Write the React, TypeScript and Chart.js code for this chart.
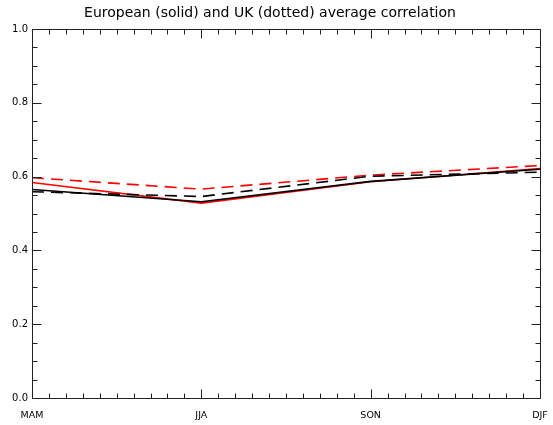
import React, { useEffect, useRef } from "react";
import { Chart, registerables } from "chart.js";
Chart.register(...registerables);

const seasons = ["MAM", "JJA", "SON", "DJF"];
const europeBlack = [0.565, 0.532, 0.587, 0.62];
const europeRed = [0.584, 0.528, 0.586, 0.622];
const ukBlack = [0.559, 0.546, 0.601, 0.612];
const ukRed = [0.597, 0.566, 0.604, 0.63];
const titleText = "European (solid) and UK (dotted) average correlation";

const FONT = "'DejaVu Sans', sans-serif";

const framePlugin = {
  id: "frameTicks",
  afterDraw(chart: any) {
    const { ctx, chartArea, scales } = chart;
    const xs = scales.x;
    const ys = scales.y;
    ctx.save();
    ctx.strokeStyle = "#222";
    ctx.lineWidth = 1;
    ctx.beginPath();
    const l = Math.round(chartArea.left) + 0.5;
    const r = Math.round(chartArea.right) + 0.5;
    const t = Math.round(chartArea.top) + 0.5;
    const b = Math.round(chartArea.bottom) + 0.5;
    ctx.rect(l, t, r - l, b - t);
    for (let i = 0; i <= 30; i++) {
      const px = Math.round(xs.getPixelForValue(i / 10)) + 0.5;
      const len = i % 10 === 0 ? 9 : 5;
      ctx.moveTo(px, b);
      ctx.lineTo(px, b - len);
      ctx.moveTo(px, t);
      ctx.lineTo(px, t + len);
    }
    for (let i = 0; i <= 20; i++) {
      const py = Math.round(ys.getPixelForValue(i * 0.05)) + 0.5;
      const len = i % 4 === 0 ? 9 : 5;
      ctx.moveTo(l, py);
      ctx.lineTo(l + len, py);
      ctx.moveTo(r, py);
      ctx.lineTo(r - len, py);
    }
    ctx.stroke();
    ctx.restore();
  },
};

function toPts(arr: number[]) {
  return arr.map((v, i) => ({ x: i, y: v }));
}

export default function App() {
  const ref = useRef<HTMLCanvasElement | null>(null);
  useEffect(() => {
    if (!ref.current) return;
    const mk = (data: number[], color: string, dashed: boolean) => ({
      data: toPts(data),
      borderColor: color,
      backgroundColor: color,
      borderWidth: 1.6,
      borderDash: dashed ? [12, 7] : [],
      pointRadius: 0,
      tension: 0,
      fill: false,
    });
    const chart = new Chart(ref.current, {
      type: "line",
      data: {
        datasets: [
          mk(ukBlack, "#000000", true),
          mk(ukRed, "#ff0000", true),
          mk(europeBlack, "#000000", false),
          mk(europeRed, "#ff0000", false),
        ],
      },
      options: {
        animation: false,
        responsive: false,
        devicePixelRatio: 1,
        layout: { padding: { left: 0, right: 13, top: 0, bottom: 0 } },
        plugins: {
          legend: { display: false },
          tooltip: { enabled: false },
          title: {
            display: true,
            text: titleText,
            color: "#000",
            font: { family: FONT, size: 14, weight: "normal", lineHeight: 1.2 },
            padding: { top: 5, bottom: 7.2 },
          },
        },
        scales: {
          x: {
            type: "linear",
            min: 0,
            max: 3,
            grid: { display: false, drawTicks: false },
            border: { display: false },
            afterFit: (s: any) => {
              s.height = 27;
              s.paddingLeft = 0;
              s.paddingRight = 0;
            },
            ticks: {
              stepSize: 1,
              autoSkip: false,
              maxRotation: 0,
              padding: 12,
              color: "#000",
              font: { family: FONT, size: 9.5 },
              callback: (v: any) => seasons[Math.round(Number(v))] ?? "",
            },
          },
          y: {
            min: 0,
            max: 1,
            grid: { display: false, drawTicks: false },
            border: { display: false },
            afterFit: (s: any) => {
              s.width = 32;
              s.paddingTop = 0;
              s.paddingBottom = 0;
            },
            ticks: {
              stepSize: 0.2,
              padding: 4,
              color: "#000",
              font: { family: FONT, size: 10 },
              callback: (v: any) => Number(v).toFixed(1),
            },
          },
        },
      },
      plugins: [framePlugin],
    } as any);
    return () => chart.destroy();
  }, []);
  return (
    <div style={{ position: "fixed", left: 0, top: 0, width: 553, height: 425, background: "#fff" }}>
      <canvas ref={ref} width={553} height={425} />
    </div>
  );
}
